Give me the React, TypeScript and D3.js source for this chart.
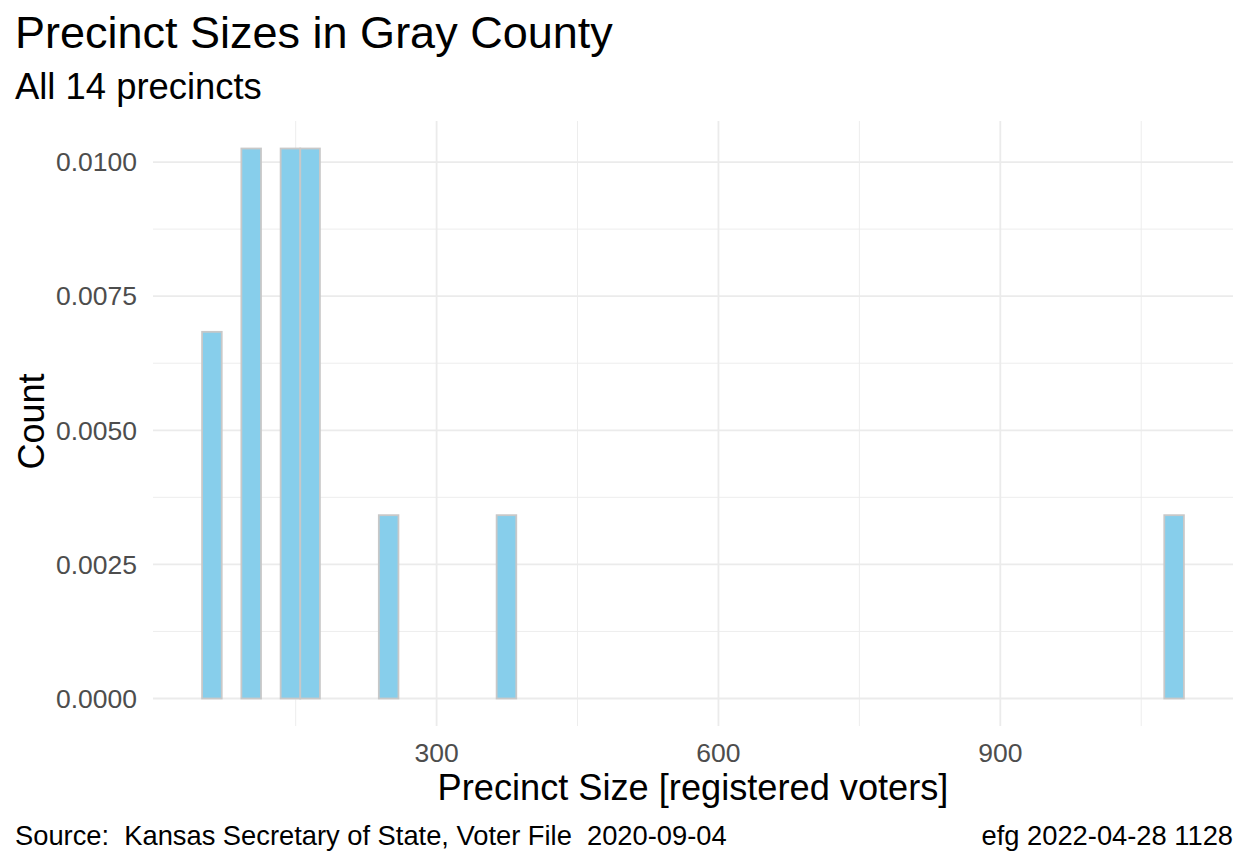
import React from "react";
import * as d3 from "d3";

// histogram of precinct sizes (registered voters), one entry per bin
const binStart = 50.4;
const binWidth = 20.9;
const nPrecincts = 14;
const binCounts = [
  2, 0, 3, 0, 3, 3, 0, 0, 0, 1,
  0, 0, 0, 0, 0, 1, 0, 0, 0, 0,
  0, 0, 0, 0, 0, 0, 0, 0, 0, 0,
  0, 0, 0, 0, 0, 0, 0, 0, 0, 0,
  0, 0, 0, 0, 0, 0, 0, 0, 0, 1,
];

const xTicks = [300, 600, 900];
const xMinor = [150, 450, 750, 1050];
const yTicks = [0, 0.0025, 0.005, 0.0075, 0.01];
const yMinor = [0.00125, 0.00375, 0.00625, 0.00875];

const W = 1248;
const H = 864;
const panel = { left: 153, right: 1233, top: 121, bottom: 726 };
const FONT = "'Liberation Sans', Arial, sans-serif";

export default function App() {
  const bins = binCounts.map((c, i) => ({
    x0: binStart + i * binWidth,
    x1: binStart + (i + 1) * binWidth,
    density: c / (nPrecincts * binWidth),
  }));

  // ggplot-style 5% expansion
  const xlo = bins[0].x0;
  const xhi = bins[bins.length - 1].x1;
  const xpad = (xhi - xlo) * 0.05;
  const x = d3.scaleLinear()
    .domain([xlo - xpad, xhi + xpad])
    .range([panel.left, panel.right]);

  const ymax = d3.max(bins, (d) => d.density) as number;
  const y = d3.scaleLinear()
    .domain([-ymax * 0.05, ymax * 1.05])
    .range([panel.bottom, panel.top]);

  const fmt = d3.format(".4f");

  return (
    <svg width={W} height={H} style={{ position: "absolute", left: 0, top: 0, background: "#fff" }} fontFamily={FONT}>
      {/* grid */}
      <g>
        {yMinor.map((t) => (
          <line key={"ym" + t} x1={panel.left} x2={panel.right} y1={y(t)} y2={y(t)} stroke="#EBEBEB" strokeWidth={0.9} />
        ))}
        {xMinor.map((t) => (
          <line key={"xm" + t} x1={x(t)} x2={x(t)} y1={panel.top} y2={panel.bottom} stroke="#EBEBEB" strokeWidth={0.9} />
        ))}
        {yTicks.map((t) => (
          <line key={"y" + t} x1={panel.left} x2={panel.right} y1={y(t)} y2={y(t)} stroke="#EBEBEB" strokeWidth={1.8} />
        ))}
        {xTicks.map((t) => (
          <line key={"x" + t} x1={x(t)} x2={x(t)} y1={panel.top} y2={panel.bottom} stroke="#EBEBEB" strokeWidth={1.8} />
        ))}
      </g>

      {/* bars */}
      <g>
        {bins.map((b, i) => (
          <rect
            key={i}
            x={x(b.x0)}
            width={x(b.x1) - x(b.x0)}
            y={y(b.density)}
            height={y(0) - y(b.density)}
            fill="#87CEEB"
            stroke="#C8C8C8"
            strokeWidth={1.8}
          />
        ))}
      </g>

      {/* y tick labels */}
      {yTicks.map((t) => (
        <text key={"yl" + t} x={137} y={y(t)} dy="0.35em" textAnchor="end" fontSize={26.5} fill="#4D4D4D">
          {fmt(t)}
        </text>
      ))}
      {/* x tick labels */}
      {xTicks.map((t) => (
        <text key={"xl" + t} x={x(t)} y={762} textAnchor="middle" fontSize={26.5} fill="#4D4D4D">
          {t}
        </text>
      ))}

      {/* titles */}
      <text x={15} y={48} fontSize={45} fill="#000">Precinct Sizes in Gray County</text>
      <text x={15} y={99} fontSize={36.4} fill="#000">All 14 precincts</text>
      <text x={(panel.left + panel.right) / 2} y={800} textAnchor="middle" fontSize={36.2} fill="#000">
        Precinct Size [registered voters]
      </text>
      <text
        transform={`translate(44,${(panel.top + panel.bottom) / 2 - 2}) rotate(-90)`}
        textAnchor="middle"
        fontSize={36}
        fill="#000"
      >
        Count
      </text>
      <text x={15} y={845} fontSize={27.3} fill="#000" style={{ whiteSpace: "pre" }}>
        {"Source:  Kansas Secretary of State, Voter File  2020-09-04"}
      </text>
      <text x={1233} y={845} textAnchor="end" fontSize={27.3} fill="#000">efg 2022-04-28 1128</text>
    </svg>
  );
}
